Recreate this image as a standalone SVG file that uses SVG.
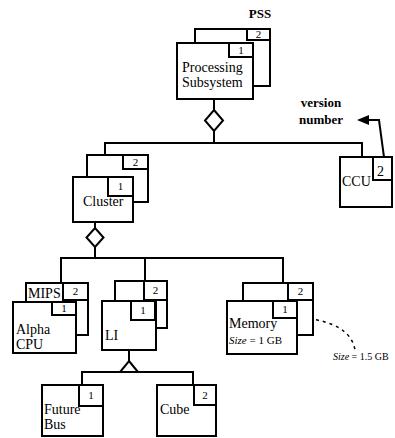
<svg xmlns="http://www.w3.org/2000/svg" width="395" height="438" viewBox="0 0 395 438">
<defs>
<style>
.b{fill:#fff;stroke:#000;stroke-width:2}
.c{fill:none;stroke:#000;stroke-width:2}
.t{font-family:"Liberation Serif",serif;font-size:14px;fill:#000}
.d{font-family:"Liberation Serif",serif;font-size:11px;fill:#000;text-anchor:middle}
.k{font-family:"Liberation Serif",serif;font-size:13px;font-weight:bold;fill:#000;text-anchor:middle}
.s{font-family:"Liberation Serif",serif;fill:#000}
</style>
<marker id="ah" markerWidth="12" markerHeight="10" refX="2" refY="5" orient="auto" markerUnits="userSpaceOnUse">
<path d="M0,0 L12,5 L0,10 Z" fill="#000"/>
</marker>
</defs>
<rect width="395" height="438" fill="#fff"/>
<g id="connectors">
<path class="c" d="M214,99 V110 M214,131 V143 M105,155 V143 H362 V157"/>
<path class="b" d="M214,110 L223,120.5 L214,131 L205,120.5 Z"/>
<path class="c" d="M95,222 V228 M95,247 V258 M61,283 V258 H283 V283 M145,258 V281"/>
<path class="b" d="M95,228 L103.5,237.5 L95,247 L86.5,237.5 Z"/>
<path class="c" d="M129,350 V361 M82,385 V372 H193 V385"/>
<path class="b" d="M129,361 L138,372 L120,372 Z"/>
<path class="c" d="M386,172 L379,120 H367" stroke-width="1.5" marker-end="url(#ah)"/>
<path d="M302,318 Q350,322 355,350" fill="none" stroke="#000" stroke-width="1.5" stroke-dasharray="3,4"/>
</g>
<g id="pss">
<text class="k" x="260" y="18">PSS</text>
<rect class="b" x="195" y="29" width="75" height="57"/>
<rect class="b" x="247" y="29" width="23" height="11"/>
<text class="d" x="258.5" y="38">2</text>
<rect class="b" x="177" y="43" width="76" height="56"/>
<rect class="b" x="229" y="43" width="24" height="14"/>
<text class="d" x="241" y="54">1</text>
<text class="t" x="182" y="72">Processing</text>
<text class="t" x="182" y="87">Subsystem</text>
</g>
<g id="cluster">
<rect class="b" x="87" y="155" width="61" height="47"/>
<rect class="b" x="123" y="155" width="25" height="14"/>
<text class="d" x="135.5" y="166">2</text>
<rect class="b" x="73" y="177" width="60" height="45"/>
<rect class="b" x="108" y="177" width="25" height="19"/>
<text class="d" x="120.5" y="190">1</text>
<text class="t" x="83" y="206">Cluster</text>
</g>
<g id="ccu">
<rect class="b" x="340" y="157" width="52" height="50"/>
<rect class="b" x="373" y="157" width="19" height="23"/>
<text class="t" x="377" y="176">2</text>
<text class="t" x="342" y="186">CCU</text>
</g>
<g id="version-number">
<text class="k" x="321" y="107">version</text>
<text class="k" x="321" y="124">number</text>
</g>
<g id="alpha-cpu">
<rect class="b" x="26" y="283" width="62" height="52"/>
<text class="t" x="28" y="298">MIPS</text>
<rect class="b" x="63" y="283" width="25" height="17"/>
<text class="d" x="75.5" y="295">2</text>
<rect class="b" x="13" y="302" width="63" height="51"/>
<rect class="b" x="52" y="302" width="24" height="13"/>
<text class="d" x="64" y="312">1</text>
<text class="t" x="16" y="334">Alpha</text>
<text class="t" x="16" y="349">CPU</text>
</g>
<g id="li">
<rect class="b" x="115" y="281" width="52" height="47"/>
<rect class="b" x="144" y="281" width="23" height="19"/>
<text class="d" x="155.5" y="294">2</text>
<rect class="b" x="102" y="301" width="54" height="49"/>
<rect class="b" x="131" y="301" width="24" height="19"/>
<text class="d" x="143" y="314">1</text>
<text class="t" x="105" y="340">LI</text>
</g>
<g id="memory">
<rect class="b" x="243" y="283" width="70" height="52"/>
<rect class="b" x="288" y="283" width="25" height="17"/>
<text class="d" x="300.5" y="295">2</text>
<rect class="b" x="227" y="301" width="70" height="53"/>
<rect class="b" x="273" y="301" width="24" height="17"/>
<text class="d" x="285" y="313">1</text>
<text class="t" x="229" y="328">Memory</text>
<text class="s" x="229" y="344" font-size="11"><tspan font-style="italic">Size</tspan> = 1 GB</text>
<text class="s" x="333" y="360" font-size="10"><tspan font-style="italic">Size</tspan> = 1.5 GB</text>
</g>
<g id="future-bus">
<rect class="b" x="42" y="385" width="61" height="51"/>
<rect class="b" x="79" y="385" width="24" height="21"/>
<text class="d" x="91" y="399">1</text>
<text class="t" x="44" y="414">Future</text>
<text class="t" x="44" y="429">Bus</text>
</g>
<g id="cube">
<rect class="b" x="157" y="385" width="59" height="51"/>
<rect class="b" x="194" y="385" width="22" height="20"/>
<text class="d" x="205" y="399">2</text>
<text class="t" x="160" y="414">Cube</text>
</g>
</svg>
